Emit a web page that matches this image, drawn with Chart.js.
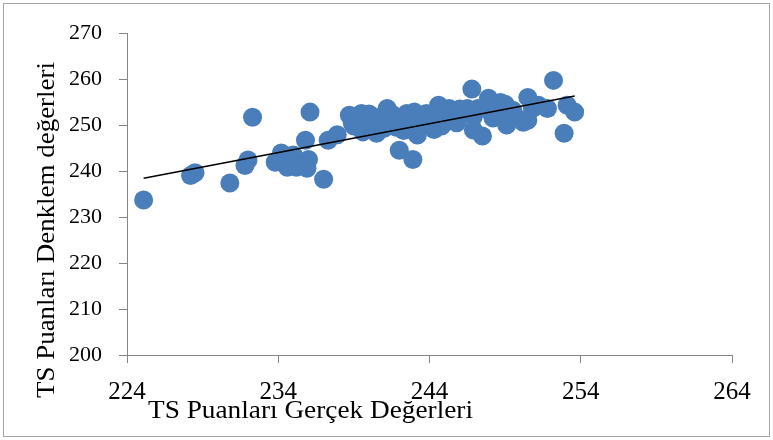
<!DOCTYPE html>
<html><head><meta charset="utf-8">
<script src="https://cdn.jsdelivr.net/npm/chart.js@4.4.0/dist/chart.umd.min.js"></script>
<style>
html,body{margin:0;padding:0;background:#fff;}
#wrap{position:relative;width:773px;height:440px;}
#frame{position:absolute;left:3px;top:3px;width:765px;height:432px;border:1px solid #A6A6A6;pointer-events:none;}
canvas{display:block;}
</style></head><body>
<div id="wrap"><canvas id="c" width="773" height="440"></canvas><div id="frame"></div></div>
<script>
const xTicks = [224, 234, 244, 254, 264];
const yTicks = [200, 210, 220, 230, 240, 250, 260, 270];
const xTitle = "TS Puanları Gerçek Değerleri";
const yTitle = "TS Puanları Denklem değerleri";

// TS Puanları Gerçek Değerleri (x) / Denklem değerleri (y)
const actualScores = [225.1,228.2,228.5,230.8,231.8,232.0,232.3,233.8,234.2,234.3,234.6,235.2,235.6,235.9,235.8,236.1,
  237.0,237.3,237.9,238.7,238.9,239.5,239.9,239.6,240.5,240.7,240.7,241.2,241.5,241.8,241.3,242.0,242.5,242.7,242.9,
  243.0,243.2,243.6,242.3,244.0,244.6,244.5,244.8,245.3,245.5,245.8,246.5,246.8,246.9,247.5,246.9,247.9,248.2,248.7,
  248.6,249.1,249.5,250.2,250.5,250.8,251.2,252.2,253.1,253.6,252.9,249.0,244.2,243.4,240.2,239.7,245.0,247.2,251.8,
  239.0,240.0,241.0,242.0,243.8,244.3,245.8,246.0,249.8,250.5,248.0,236.0,235.0,241.6,242.8];
const equationScores = [233.7,239.0,239.6,237.4,241.2,242.4,251.7,241.9,243.9,241.9,240.8,240.8,241.9,240.6,246.7,252.8,
  238.2,246.7,247.9,252.1,250.4,252.5,249.5,248.5,248.2,251.7,248.9,253.6,251.5,249.5,250.3,244.5,252.5,250.4,242.5,
  252.8,247.8,251.5,248.8,251.0,254.3,250.6,249.8,253.6,251.5,252.8,253.6,257.8,248.9,247.6,251.8,255.8,251.5,254.9,
  252.6,250.0,253.2,250.6,256.0,253.6,254.3,259.7,254.3,252.8,248.2,254.5,252.0,250.0,250.3,251.0,250.5,253.6,253.6,
  249.8,252.4,249.3,251.0,252.5,249.0,250.5,253.5,251.5,251.0,253.0,242.5,243.5,252.2,249.2];
const trendX = [225.1, 253.6];
const trendY = [238.4, 256.3];

const points = actualScores.map((x, i) => ({x: x, y: equationScores[i]}));
const trend = trendX.map((x, i) => ({x: x, y: trendY[i]}));

const serif = "'Liberation Serif', 'Times New Roman', serif";

const axisTitles = {
  id: 'axisTitles',
  afterDraw(chart) {
    const ctx = chart.ctx;
    ctx.save();
    ctx.fillStyle = '#000';
    ctx.textAlign = 'left';
    ctx.textBaseline = 'alphabetic';
    // x title
    ctx.font = '25px ' + serif;
    let w = ctx.measureText(xTitle).width;
    ctx.save();
    ctx.translate(148, 418);
    ctx.scale(325 / w, 1);
    ctx.fillText(xTitle, 0, 0);
    ctx.restore();
    // y title
    ctx.font = '26px ' + serif;
    w = ctx.measureText(yTitle).width;
    ctx.save();
    ctx.translate(54, 398);
    ctx.rotate(-Math.PI / 2);
    ctx.scale(336 / w, 1);
    ctx.fillText(yTitle, 0, 0);
    ctx.restore();
    ctx.restore();
  }
};

new Chart(document.getElementById('c'), {
  type: 'scatter',
  data: {
    datasets: [
      {
        type: 'line',
        data: trend,
        borderColor: '#000',
        borderWidth: 1.5,
        pointRadius: 0,
        showLine: true,
        fill: false,
        order: 0
      },
      {
        data: points,
        backgroundColor: '#4A7EBB',
        borderColor: '#4A7EBB',
        borderWidth: 0,
        pointRadius: 9.5,
        pointHoverRadius: 9.5,
        order: 1
      }
    ]
  },
  options: {
    responsive: false,
    devicePixelRatio: 1,
    animation: false,
    events: [],
    layout: {padding: {top: 33, right: 41, left: 0, bottom: 0}},
    plugins: {legend: {display: false}, tooltip: {enabled: false}},
    scales: {
      x: {
        type: 'linear',
        min: 224, max: 264,
        afterBuildTicks: (s) => { s.ticks = xTicks.map(v => ({value: v})); },
        afterFit: (s) => { s.height = 85; },
        ticks: {color: '#000', font: {family: serif, size: 25}, padding: 14, maxRotation: 0},
        grid: {display: true, drawOnChartArea: false, drawTicks: true, tickLength: 8, color: '#868686', lineWidth: 1},
        border: {display: true, color: '#868686', width: 1}
      },
      y: {
        type: 'linear',
        min: 200, max: 270,
        afterBuildTicks: (s) => { s.ticks = yTicks.map(v => ({value: v})); },
        afterFit: (s) => { s.width = 127; },
        ticks: {color: '#000', font: {family: serif, size: 22}, padding: 17},
        grid: {display: true, drawOnChartArea: false, drawTicks: true, tickLength: 8, color: '#868686', lineWidth: 1},
        border: {display: true, color: '#868686', width: 1}
      }
    }
  },
  plugins: [axisTitles]
});
</script>
</body></html>
